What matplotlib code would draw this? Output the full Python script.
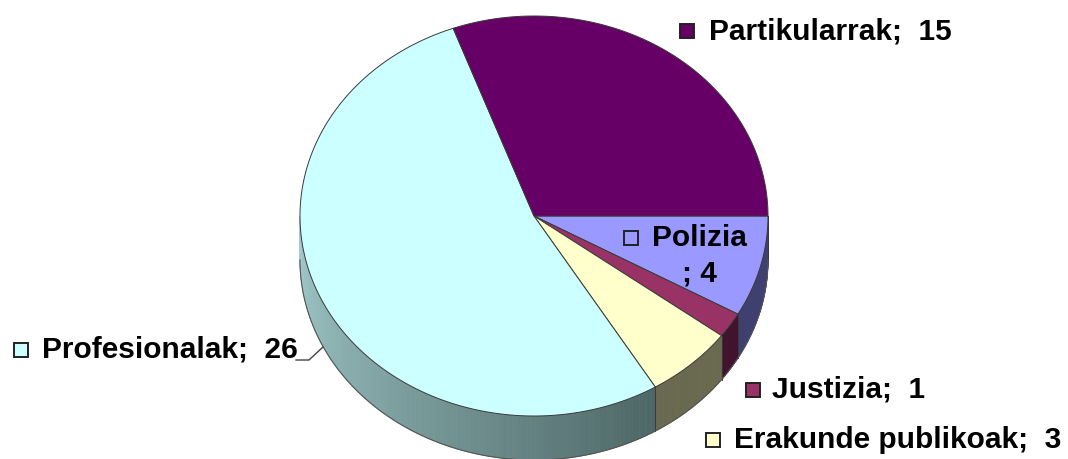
import numpy as np
import matplotlib
matplotlib.use('Agg')
import matplotlib.pyplot as plt
from matplotlib.patches import Rectangle
from matplotlib.colors import to_rgb

labels = ['Polizia', 'Justizia', 'Erakunde publikoak', 'Profesionalak', 'Partikularrak']
values = [4, 1, 3, 26, 15]
top_colors = ['#9999ff', '#993366', '#ffffcc', '#ccffff', '#660066']
side_dark = ['#3f3f70', '#40122c', '#69694f', '#4d6666', '#2a002a']
side_light = ['#3f3f70', '#40122c', '#69694f', '#a3cccc', '#2a002a']

W, H = 1068, 459
cx, cy = 534, 216
rx, ry = 234, 200
depth = 44
edge = '#3a3a3a'

plt.rcParams['font.family'] = ['Liberation Sans', 'DejaVu Sans']
fig = plt.figure(figsize=(W / 100, H / 100), dpi=100)
ax = fig.add_axes([0, 0, 1, 1])
ax.axis('off')

# angles clockwise from east, in radians
edges = np.cumsum([0] + values) / sum(values) * 2 * np.pi


def px(t):
    return cx + rx * np.cos(t), cy + ry * np.sin(t)


# side wall, only the front half is visible
for i in range(len(values)):
    a0 = edges[i]
    a1 = min(edges[i + 1], np.pi)
    if a0 >= np.pi:
        continue
    ts = np.linspace(a0, a1, max(int((a1 - a0) * 120), 2))
    for t0, t1 in zip(ts[:-1], ts[1:]):
        x0, y0 = px(t0)
        x1, y1 = px(t1)
        f = (t0 - a0) / max(a1 - a0, 1e-6)
        c = np.array(to_rgb(side_dark[i])) * (1 - f) + np.array(to_rgb(side_light[i])) * f
        ax.fill([x0, x1, x1, x0], [y0, y1, y1 + depth, y0 + depth], color=c, lw=0.6)
    # seam between the slices
    x0, y0 = px(a0)
    ax.plot([x0, x0], [y0, y0 + depth], color=edge, lw=0.7)

# bottom outline of the wall
ts = np.linspace(0, np.pi, 300)
ax.plot(cx + rx * np.cos(ts), cy + ry * np.sin(ts) + depth, color='#555555', lw=0.8)

# top face
for i in range(len(values)):
    ts = np.linspace(edges[i], edges[i + 1], 200)
    xs = np.r_[cx, cx + rx * np.cos(ts)]
    ys = np.r_[cy, cy + ry * np.sin(ts)]
    ax.fill(xs, ys, facecolor=top_colors[i], edgecolor=edge, lw=0.7)


def label(x, y, kx, text, key):
    ax.add_patch(Rectangle((kx, y - 7), 14, 14, facecolor=key, edgecolor='#222222', lw=1.4))
    ax.text(x, y, text, fontsize=21.5, fontweight='bold', va='center', ha='left', color='black')


label(709, 31, 680, 'Partikularrak;  15', top_colors[4])
label(652, 238, 624, 'Polizia', top_colors[0])
ax.text(699, 273, '; 4', fontsize=21.5, fontweight='bold', va='center', ha='center')
label(772, 390, 746, 'Justizia;  1', top_colors[1])
label(734, 440, 706, 'Erakunde publikoak;  3', top_colors[2])
label(42, 350, 14, 'Profesionalak;  26', top_colors[3])
ax.plot([296, 309, 323], [360, 360, 347], color='#444444', lw=1.0)

ax.set_xlim(0, W)
ax.set_ylim(H, 0)
fig.savefig('out.png', dpi=100)
